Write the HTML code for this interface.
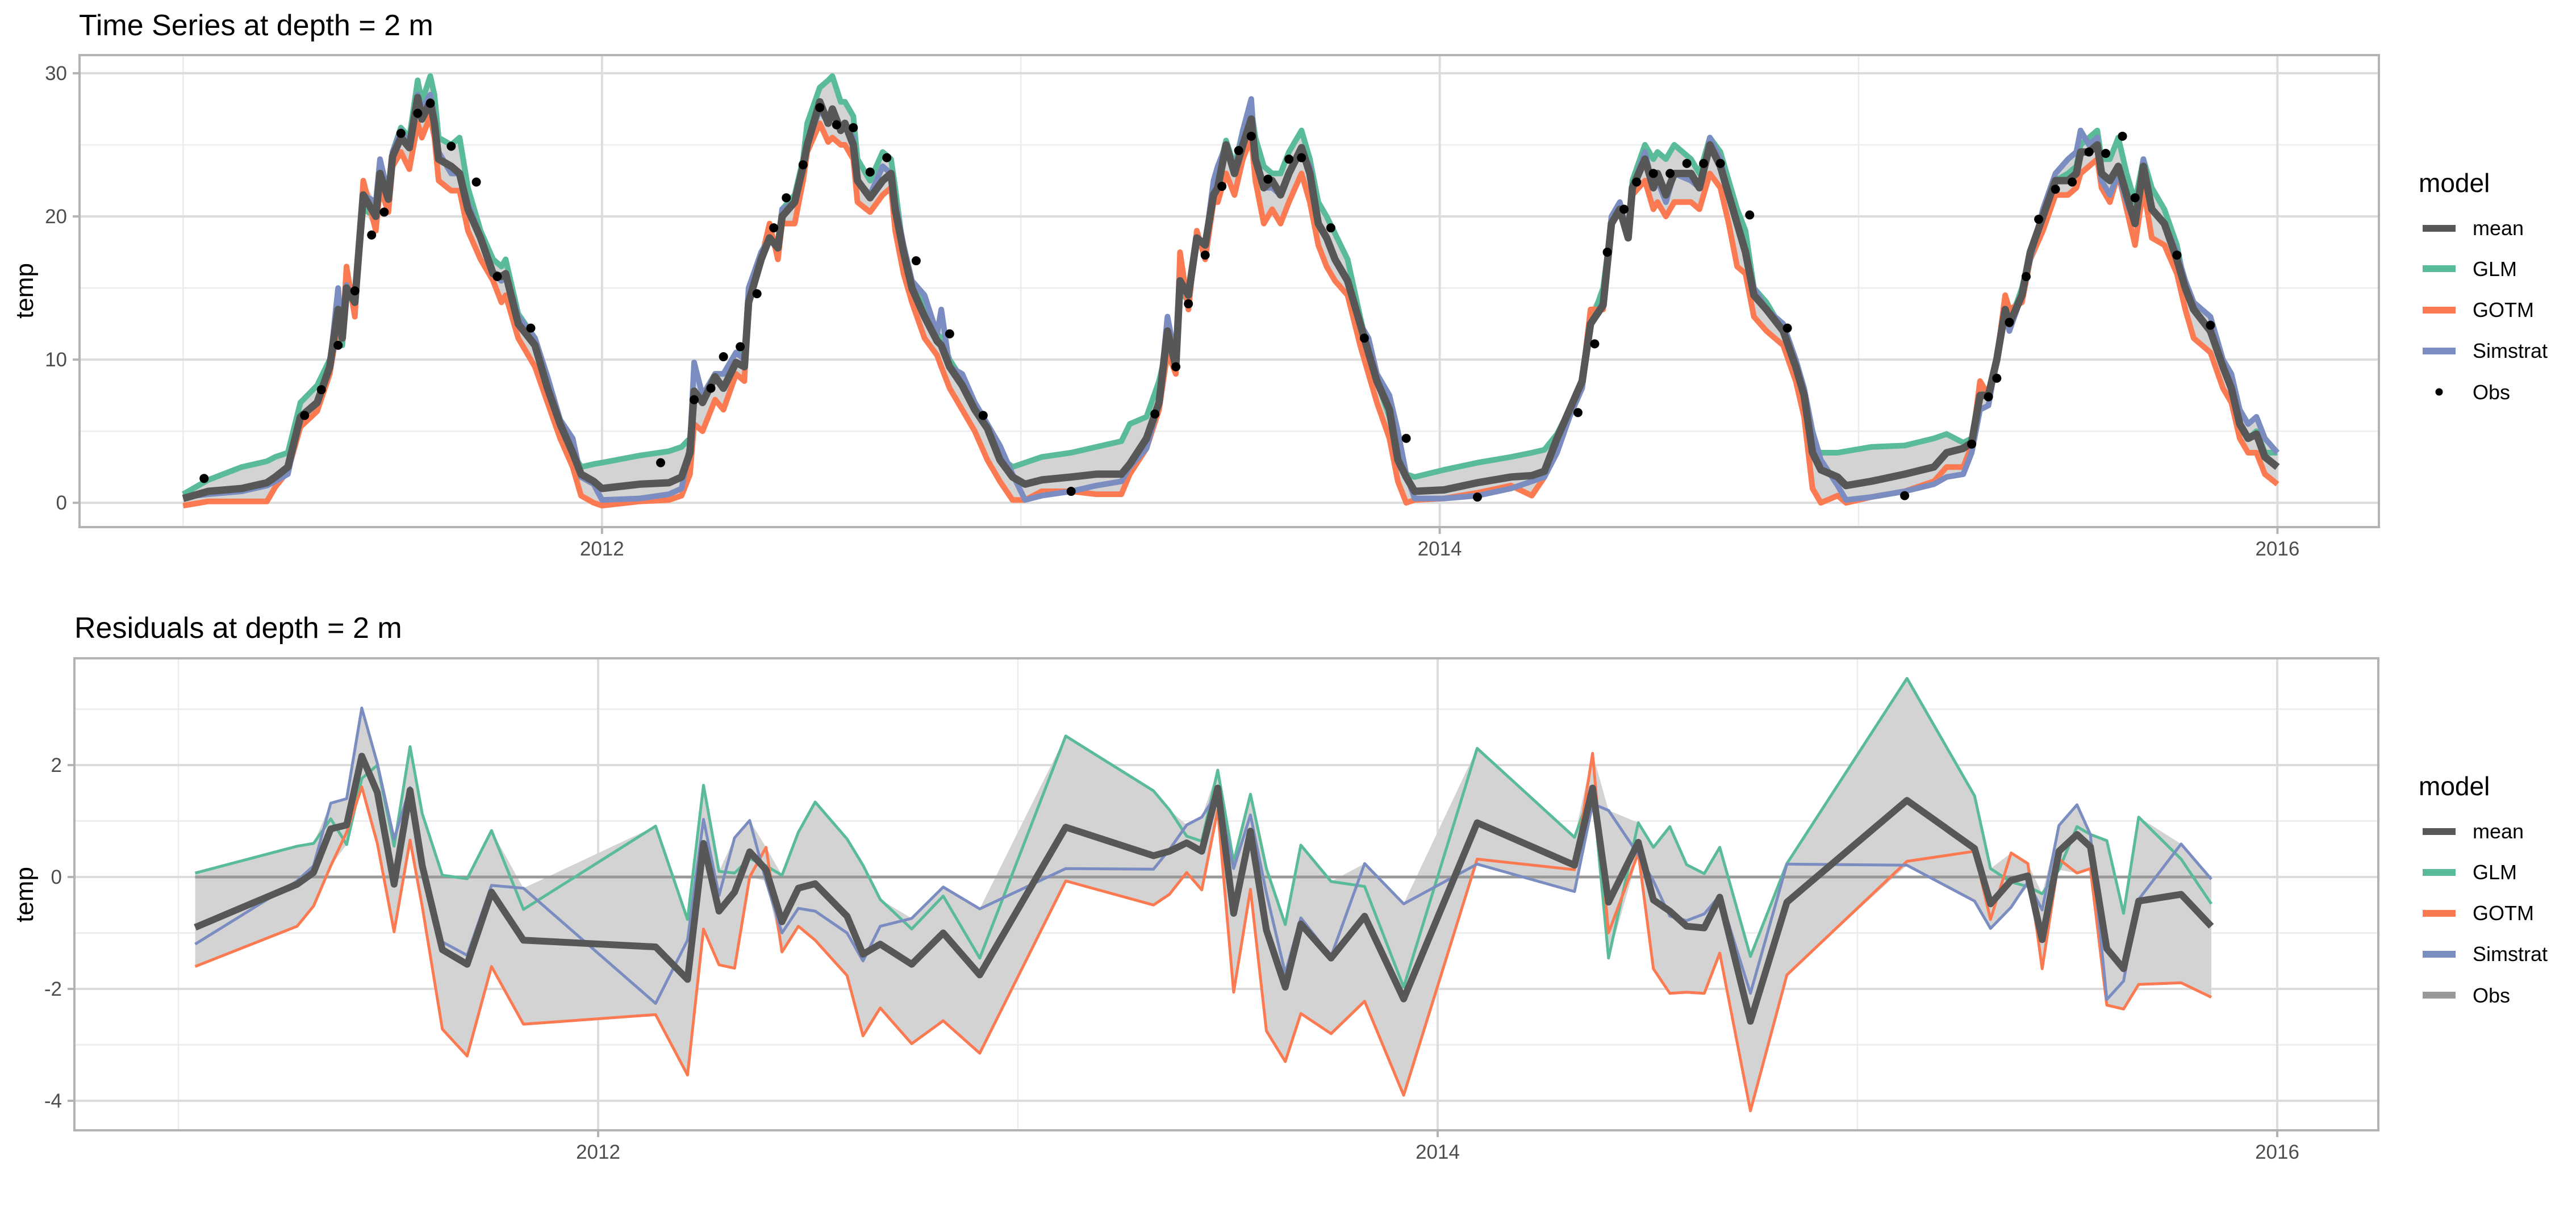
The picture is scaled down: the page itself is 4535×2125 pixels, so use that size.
<!DOCTYPE html>
<html>
<head>
<meta charset="utf-8">
<style>
html,body{margin:0;padding:0;background:#fff;}
svg{display:block;font-family:"Liberation Sans",Arial,sans-serif;}
.tick{fill:#4d4d4d;font-size:35px;}
.ttl{fill:#000;font-size:52px;}
.axt{fill:#000;font-size:44px;}
.leg{fill:#000;font-size:36px;}
.legt{fill:#000;font-size:46px;}
</style>
</head>
<body>
<svg id="chart" width="4535" height="2125" viewBox="0 0 4535 2125" xmlns="http://www.w3.org/2000/svg">
  <rect x="0" y="0" width="4535" height="2125" fill="#fff"/>
  <defs>
    <clipPath id="clipTop"><rect x="140" y="97" width="4048" height="831"/></clipPath>
    <clipPath id="clipBot"><rect x="131" y="1159" width="4056" height="831"/></clipPath>
  </defs>
  <text class="ttl" x="139" y="62">Time Series at depth = 2 m</text>
  <text class="ttl" x="131" y="1123">Residuals at depth = 2 m</text>
  <text class="axt" transform="translate(58,512) rotate(-90)" text-anchor="middle">temp</text>
  <text class="axt" transform="translate(58,1575) rotate(-90)" text-anchor="middle">temp</text>
  <g id="gTop"></g>
  <g id="gBot"></g>

  <g>
    <text class="legt" x="4258" y="338">model</text>
    <g><rect x="4265" y="396" width="58" height="12" fill="#575757"/><text class="leg" x="4353" y="414">mean</text></g>
    <g><rect x="4265" y="467" width="58" height="12" fill="#59bb97"/><text class="leg" x="4353" y="486">GLM</text></g>
    <g><rect x="4265" y="540" width="58" height="12" fill="#fb7a51"/><text class="leg" x="4353" y="558">GOTM</text></g>
    <g><rect x="4265" y="612" width="58" height="12" fill="#7b8dc0"/><text class="leg" x="4353" y="630">Simstrat</text></g>
    <g><circle cx="4294" cy="690" r="6.5" fill="#000"/><text class="leg" x="4353" y="703">Obs</text></g>
  </g>
  <g>
    <text class="legt" x="4258" y="1400">model</text>
    <g><rect x="4265" y="1458" width="58" height="12" fill="#575757"/><text class="leg" x="4353" y="1476">mean</text></g>
    <g><rect x="4265" y="1530" width="58" height="12" fill="#59bb97"/><text class="leg" x="4353" y="1548">GLM</text></g>
    <g><rect x="4265" y="1602" width="58" height="12" fill="#fb7a51"/><text class="leg" x="4353" y="1620">GOTM</text></g>
    <g><rect x="4265" y="1674" width="58" height="12" fill="#7b8dc0"/><text class="leg" x="4353" y="1692">Simstrat</text></g>
    <g><rect x="4265" y="1746" width="58" height="12" fill="#999999"/><text class="leg" x="4353" y="1765">Obs</text></g>
  </g>
</svg>
<script>
// ---------- Top panel data ----------
const tsDates = [2011.00,2011.06,2011.14,2011.20,2011.22,2011.25,2011.28,2011.32,2011.35,2011.37,2011.38,2011.39,2011.41,2011.43,2011.46,2011.47,2011.49,2011.50,2011.52,2011.54,2011.56,2011.57,2011.59,2011.60,2011.61,2011.64,2011.66,2011.68,2011.71,2011.74,2011.76,2011.77,2011.80,2011.84,2011.87,2011.90,2011.93,2011.95,2011.98,
2012.00,2012.09,2012.16,2012.19,2012.21,2012.22,2012.24,2012.27,2012.29,2012.32,2012.34,2012.35,2012.38,2012.40,2012.42,2012.43,2012.46,2012.48,2012.49,2012.52,2012.54,2012.55,2012.57,2012.58,2012.60,2012.61,2012.64,2012.67,2012.69,2012.70,2012.72,2012.74,2012.77,2012.80,2012.81,2012.83,2012.86,2012.89,2012.92,2012.95,2012.98,
2013.01,2013.05,2013.12,2013.18,2013.24,2013.26,2013.30,2013.33,2013.35,2013.37,2013.38,2013.40,2013.42,2013.44,2013.46,2013.47,2013.49,2013.51,2013.53,2013.55,2013.56,2013.58,2013.60,2013.62,2013.64,2013.67,2013.69,2013.71,2013.73,2013.75,2013.78,2013.81,2013.83,2013.85,2013.88,2013.90,2013.92,2013.94,
2014.01,2014.09,2014.17,2014.22,2014.25,2014.28,2014.31,2014.34,2014.36,2014.39,2014.41,2014.43,2014.45,2014.46,2014.49,2014.51,2014.52,2014.54,2014.56,2014.60,2014.62,2014.645,2014.67,2014.69,2014.71,2014.73,2014.75,2014.78,2014.82,2014.85,2014.87,2014.89,2014.91,2014.95,2014.97,
2015.03,2015.11,2015.18,2015.21,2015.25,2015.27,2015.29,2015.31,2015.33,2015.35,2015.36,2015.39,2015.41,2015.44,2015.47,2015.50,2015.52,2015.53,2015.55,2015.57,2015.58,2015.60,2015.62,2015.64,2015.66,2015.68,2015.70,2015.73,2015.76,2015.78,2015.80,2015.84,2015.87,2015.89,2015.91,2015.93,2015.95,2015.97,2016.00];
const tsMean = [0.3,0.8,1.0,1.4,1.8,2.5,6.0,7.0,9.5,13.5,11.5,15.0,14.0,21.5,20.0,23.0,21.2,24.2,25.5,24.8,28.3,26.8,28.0,26.5,24.0,23.5,23.0,20.5,18.5,16.0,15.8,16.0,12.5,11.0,8.0,5.5,3.5,2.0,1.5,
1.0,1.3,1.4,1.8,3.5,7.8,7.0,8.8,8.0,9.8,9.5,14.0,17.0,18.5,17.8,20.0,21.0,23.5,25.0,28.0,26.5,27.5,26.0,26.5,25.0,22.5,21.3,22.5,23.0,20.5,17.5,15.0,13.0,11.3,11.0,9.5,8.2,6.5,5.2,3.0,1.8,
1.3,1.6,1.8,2.0,2.0,2.7,4.5,7.0,12.0,9.5,15.5,14.5,18.5,18.0,21.5,22.0,25.0,23.0,25.0,26.8,24.0,22.0,22.5,21.5,23.0,24.8,23.0,19.5,18.5,17.0,15.5,12.5,10.5,8.5,6.5,3.0,1.8,0.8,
0.9,1.4,1.8,1.9,2.2,4.5,6.5,8.5,12.5,13.8,19.5,20.5,18.5,22.0,24.0,22.0,23.0,21.5,23.0,23.0,22.0,25.0,23.5,21.5,19.5,17.5,14.5,13.5,12.0,9.5,7.5,3.5,2.3,1.8,1.2,
1.5,2.0,2.5,3.5,3.8,4.2,7.5,7.5,10.0,13.5,12.5,14.5,17.5,20.0,22.5,22.5,23.0,24.5,24.5,25.0,23.0,22.5,23.5,21.5,19.5,23.5,20.5,19.5,17.0,15.0,13.5,12.0,9.5,8.0,5.5,4.5,4.8,3.2,2.5];
const tsGLM = [0.6,1.6,2.5,2.9,3.2,3.5,7.0,8.2,10.0,12.0,11.0,14.5,14.0,20.5,20.0,22.5,21.5,24.5,26.2,25.5,29.5,28.0,29.8,28.5,25.5,25.0,25.5,22.0,19.0,17.0,16.5,17.0,13.2,11.5,8.5,5.8,3.5,2.5,2.7,
2.8,3.3,3.6,3.9,4.5,7.5,7.5,9.0,9.0,10.5,10.3,14.0,17.5,18.5,18.0,20.5,21.5,24.0,26.5,29.0,29.5,29.8,28.0,28.0,27.0,24.0,22.5,24.5,24.0,22.0,17.5,15.5,13.5,11.8,11.5,10.0,8.6,7.0,5.5,3.2,2.5,
2.8,3.2,3.5,3.9,4.3,5.5,6.0,8.5,11.0,10.0,15.0,14.0,18.5,18.0,22.0,23.0,25.3,23.5,26.0,27.5,25.5,23.5,23.0,23.0,24.5,26.0,24.0,21.0,20.0,18.8,17.0,13.0,10.5,8.5,6.0,3.0,2.0,1.8,
2.3,2.8,3.2,3.5,3.7,4.8,6.5,8.0,12.5,15.0,19.5,20.5,18.5,22.5,25.0,24.0,24.5,24.0,25.0,24.0,23.0,25.5,24.5,22.5,20.5,19.0,15.0,14.0,12.0,9.5,7.5,3.8,3.5,3.5,3.6,
3.9,4.0,4.5,4.8,4.2,4.5,8.0,7.5,10.0,13.5,12.5,15.0,17.5,20.0,22.5,23.0,23.5,25.0,25.5,26.0,24.0,24.0,25.5,23.0,21.0,24.0,22.0,20.5,18.0,15.0,13.5,12.0,9.5,8.0,5.5,4.5,5.0,3.5,3.5];
const tsGOTM = [-0.2,0.1,0.1,0.1,1.1,2.2,5.3,6.4,9.0,12.5,11.5,16.5,13.0,22.5,19.0,22.0,20.3,23.5,24.5,23.3,26.5,25.5,27.0,25.5,22.5,21.8,21.8,19.0,17.0,15.5,14.0,14.5,11.5,9.5,7.0,4.5,2.5,0.5,0.0,
-0.2,0.1,0.2,0.5,2.0,5.5,5.0,7.2,6.5,9.0,8.5,14.5,17.0,19.5,17.0,19.5,19.5,22.5,24.5,26.5,25.2,25.5,25.0,25.0,24.0,21.0,20.3,21.5,22.0,19.0,16.0,14.0,11.5,10.3,9.5,8.0,6.5,5.0,3.0,1.5,0.2,
0.2,0.8,0.8,0.6,0.6,2.0,3.8,6.5,10.5,9.0,17.5,13.5,19.0,17.0,21.0,21.0,23.0,21.5,24.0,25.5,22.5,19.5,20.5,19.5,21.0,23.0,21.0,18.0,16.5,15.5,14.5,11.0,9.0,7.0,4.5,1.5,0.0,0.2,
0.3,0.7,1.2,0.5,1.8,4.0,6.5,8.5,13.5,13.5,19.5,20.5,18.5,21.5,22.5,20.5,21.0,20.0,21.0,21.0,20.5,23.0,22.0,19.5,16.5,16.0,13.0,12.0,11.0,8.5,6.0,1.0,0.0,0.5,0.0,
0.4,0.8,1.5,2.5,2.5,4.0,8.5,7.5,10.0,14.5,13.5,14.0,17.0,19.0,21.5,21.5,22.0,23.0,23.5,24.0,22.0,21.0,23.0,20.5,18.0,22.0,18.5,18.0,16.0,13.5,11.5,10.5,8.0,7.0,4.5,3.5,3.5,2.0,1.3];
const tsSim = [0.4,0.6,0.8,1.2,1.5,2.0,6.0,7.0,9.5,15.0,11.5,15.2,14.0,21.5,21.0,24.0,21.5,24.5,26.0,25.0,28.5,27.5,28.5,27.0,24.5,23.0,23.0,21.0,18.5,16.0,15.5,16.0,13.0,11.5,8.8,5.8,4.5,1.8,1.3,
0.2,0.3,0.6,1.0,4.0,9.8,7.5,9.0,9.0,10.5,10.0,15.0,17.5,18.5,18.0,20.5,21.0,23.5,25.0,27.5,26.5,27.0,26.3,26.5,25.5,22.5,21.5,23.5,23.0,21.0,18.0,15.5,14.5,11.8,13.5,9.5,9.0,7.0,5.5,4.0,2.0,
0.2,0.5,0.8,1.2,1.5,2.5,3.8,7.0,13.0,10.0,15.0,14.5,18.5,18.0,22.5,23.5,25.0,23.0,26.0,28.2,24.0,22.0,22.0,21.5,23.0,24.5,23.5,19.5,18.5,17.0,15.5,12.5,11.5,9.0,7.5,5.0,2.0,0.3,
0.3,0.5,1.0,1.5,1.8,3.5,6.0,8.0,12.5,14.0,20.0,21.0,18.5,22.0,24.5,22.0,22.5,21.0,23.0,22.5,22.0,25.5,24.0,21.5,19.5,17.5,15.0,13.5,12.5,10.0,8.0,5.0,3.0,1.2,0.2,
0.4,0.8,1.3,1.8,2.0,3.5,6.5,6.8,10.0,13.0,12.0,14.5,17.0,20.5,23.0,24.0,24.5,26.0,25.0,25.5,22.5,21.5,23.0,21.0,19.5,24.0,20.5,19.5,17.5,15.5,14.0,13.0,10.0,9.0,6.5,5.5,6.0,4.5,3.5];
const obsDates = [2011.05,2011.29,2011.33,2011.37,2011.41,2011.45,2011.48,2011.52,2011.56,2011.59,2011.64,2011.70,2011.75,2011.83,
2012.14,2012.22,2012.26,2012.29,2012.33,2012.37,2012.41,2012.44,2012.48,2012.52,2012.56,2012.60,2012.64,2012.68,2012.75,2012.83,2012.91,
2013.12,2013.32,2013.37,2013.40,2013.44,2013.48,2013.52,2013.55,2013.59,2013.64,2013.67,2013.74,2013.82,2013.92,
2014.09,2014.33,2014.37,2014.40,2014.44,2014.47,2014.51,2014.55,2014.59,2014.63,2014.67,2014.74,2014.83,
2015.11,2015.27,2015.31,2015.33,2015.36,2015.40,2015.43,2015.47,2015.51,2015.55,2015.59,2015.63,2015.66,2015.76,2015.84];
const obsTemps = [1.7,6.1,7.9,11.0,14.8,18.7,20.3,25.8,27.2,27.9,24.9,22.4,15.8,12.2,
2.8,7.2,8.0,10.2,10.9,14.6,19.2,21.3,23.6,27.6,26.4,26.2,23.1,24.1,16.9,11.8,6.1,
0.8,6.2,9.5,13.9,17.3,22.1,24.6,25.6,22.6,24.0,24.1,19.2,11.5,4.5,
0.4,6.3,11.1,17.5,20.5,22.4,23.0,23.0,23.7,23.7,23.7,20.1,12.2,
0.5,4.1,7.4,8.7,12.6,15.8,19.8,21.9,22.4,24.5,24.4,25.6,21.3,17.3,12.4];
const topYTicks = [0,10,20,30];
const topYMinor = [5,15,25];
const xMajorTicks = [2012,2014,2016];
const xMinorTicks = [2011,2013,2015];

// ---------- Bottom panel data ----------
const resDates = [2011.040,2011.283,2011.322,2011.363,2011.401,2011.437,2011.474,2011.514,2011.552,2011.581,2011.629,2011.688,2011.746,2011.822,
2012.137,2012.213,2012.251,2012.288,2012.325,2012.361,2012.400,2012.438,2012.477,2012.517,2012.593,2012.631,2012.672,2012.747,2012.822,2012.909,
2013.114,2013.323,2013.361,2013.402,2013.438,2013.476,2013.514,2013.554,2013.592,2013.637,2013.674,2013.746,2013.826,2013.919,
2014.094,2014.326,2014.369,2014.407,2014.478,2014.514,2014.553,2014.593,2014.635,2014.672,2014.745,2014.832,
2015.118,2015.279,2015.317,2015.366,2015.406,2015.440,2015.480,2015.523,2015.555,2015.594,2015.634,2015.670,2015.771,2015.843];
const resMean = [-0.9,-0.13,0.08,0.86,0.93,2.16,1.51,-0.13,1.55,0.2,-1.3,-1.56,-0.27,-1.13,
-1.25,-1.83,0.6,-0.61,-0.27,0.45,0.13,-0.8,-0.2,-0.12,-0.7,-1.38,-1.2,-1.56,-1.0,-1.75,
0.89,0.38,0.46,0.61,0.46,1.59,-0.65,0.82,-0.95,-1.97,-0.84,-1.45,-0.7,-2.18,
0.97,0.21,1.59,-0.45,0.62,-0.41,-0.61,-0.88,-0.91,-0.36,-2.58,-0.45,
1.37,0.51,-0.48,-0.06,0.02,-1.12,0.46,0.76,0.54,-1.28,-1.64,-0.43,-0.31,-0.88];
const resGLM = [0.07,0.55,0.6,1.04,0.58,1.76,2.0,0.55,2.33,1.13,0.03,-0.03,0.83,-0.58,
0.91,-0.76,1.64,0.1,0.07,0.33,0.2,0.03,0.8,1.34,0.68,0.21,-0.4,-0.93,-0.34,-1.45,
2.52,1.54,1.2,0.73,0.64,1.91,0.27,1.48,0.15,-0.85,0.57,-0.08,-0.17,-1.97,
2.3,0.71,1.6,-1.45,0.97,0.53,0.9,0.22,0.06,0.53,-1.42,0.24,
3.55,1.45,0.15,-0.09,-0.17,-0.3,0.13,0.9,0.76,0.65,-0.65,1.07,0.32,-0.48];
const resGOTM = [-1.6,-0.88,-0.52,0.2,0.8,1.61,0.6,-0.98,0.66,-0.53,-2.72,-3.2,-1.6,-2.63,
-2.46,-3.54,-0.93,-1.57,-1.63,0.0,0.53,-1.34,-0.88,-1.13,-1.76,-2.84,-2.34,-2.98,-2.57,-3.15,
-0.07,-0.5,-0.31,0.08,-0.23,1.2,-2.06,-0.22,-2.75,-3.3,-2.44,-2.8,-2.22,-3.9,
0.32,0.13,2.21,-1.0,0.43,-1.64,-2.08,-2.06,-2.08,-1.36,-4.18,-1.75,
0.28,0.46,-0.76,0.43,0.24,-1.64,0.32,0.07,0.15,-2.29,-2.36,-1.92,-1.89,-2.15];
const resSim = [-1.2,-0.07,0.2,1.32,1.4,3.02,2.03,0.68,1.6,0.2,-1.16,-1.4,-0.15,-0.2,
-2.26,-1.13,1.03,-0.33,0.7,1.01,-0.07,-1.0,-0.56,-0.61,-1.0,-1.5,-0.88,-0.74,-0.18,-0.57,
0.15,0.14,0.49,0.93,1.07,1.52,0.15,1.11,-0.29,-1.72,-0.73,-1.42,0.24,-0.48,
0.23,-0.26,1.31,1.19,0.4,-0.07,-0.7,-0.78,-0.66,-0.33,-2.08,0.23,
0.21,-0.43,-0.92,-0.54,-0.09,-0.59,0.92,1.29,0.76,-2.19,-1.86,-0.4,0.59,-0.04];
const botYTicks = [-4,-2,0,2];
const botYMinor = [-3,-1,1,3];

// ---------- scales ----------
const xT = yr => 322.4 + (yr - 2011) * 737.4;
const yT = t => 885.2 - t * 25.21;
const xB = yr => 314 + (yr - 2011) * 739;
const yB = v => 1544 - v * 98.5;

const NS = 'http://www.w3.org/2000/svg';
function mk(tag, attrs, parent) {
  const el = document.createElementNS(NS, tag);
  for (const k in attrs) el.setAttribute(k, attrs[k]);
  parent.appendChild(el);
  return el;
}
function pathFrom(dates, vals, xs, ys) {
  return dates.map((d, i) => (i ? 'L' : 'M') + xs(d).toFixed(1) + ',' + ys(vals[i]).toFixed(1)).join('');
}
function ribbonFrom(dates, a, b, c, xs, ys) {
  const hi = dates.map((d, i) => Math.max(a[i], b[i], c[i]));
  const lo = dates.map((d, i) => Math.min(a[i], b[i], c[i]));
  let p = dates.map((d, i) => (i ? 'L' : 'M') + xs(d).toFixed(1) + ',' + ys(hi[i]).toFixed(1)).join('');
  for (let i = dates.length - 1; i >= 0; i--) p += 'L' + xs(dates[i]).toFixed(1) + ',' + ys(lo[i]).toFixed(1);
  return p + 'Z';
}

function drawPanel(g, cfg) {
  const bg = mk('rect', {x: cfg.left, y: cfg.top, width: cfg.right - cfg.left, height: cfg.bottom - cfg.top, fill: '#fff'}, g);
  
  
  cfg.yMinor.forEach(v => {
    const l = mk('line', {x1: cfg.left, x2: cfg.right, y1: cfg.ys(v), y2: cfg.ys(v), stroke: '#ececec', 'stroke-width': 2.5}, g);
    
    
  });
  xMinorTicks.forEach(v => {
    const l = mk('line', {x1: cfg.xs(v), x2: cfg.xs(v), y1: cfg.top, y2: cfg.bottom, stroke: '#ececec', 'stroke-width': 2.5}, g);
    
    
  });
  cfg.yTicks.forEach(v => {
    const l = mk('line', {x1: cfg.left, x2: cfg.right, y1: cfg.ys(v), y2: cfg.ys(v), stroke: '#dcdcdc', 'stroke-width': 4}, g);
    
    
    const tk = mk('line', {x1: cfg.left - 12, x2: cfg.left, y1: cfg.ys(v), y2: cfg.ys(v), stroke: '#b3b3b3', 'stroke-width': 4}, g);
    
    
    const t = mk('text', {x: cfg.left - 22, y: cfg.ys(v) + 12, 'text-anchor': 'end', class: 'tick'}, g);
    
    
    t.textContent = String(v);
  });
  xMajorTicks.forEach(v => {
    const l = mk('line', {x1: cfg.xs(v), x2: cfg.xs(v), y1: cfg.top, y2: cfg.bottom, stroke: '#dcdcdc', 'stroke-width': 4}, g);
    
    
    const tk = mk('line', {x1: cfg.xs(v), x2: cfg.xs(v), y1: cfg.bottom, y2: cfg.bottom + 12, stroke: '#b3b3b3', 'stroke-width': 4}, g);
    
    
    const t = mk('text', {x: cfg.xs(v), y: cfg.bottom + 50, 'text-anchor': 'middle', class: 'tick'}, g);
    
    
    t.textContent = String(v);
  });
}

// ---------- Top panel ----------
const gTop = document.getElementById('gTop');
drawPanel(gTop, {prefix: 'top', left: 140, right: 4188, top: 97, bottom: 928, xs: xT, ys: yT, yTicks: topYTicks, yMinor: topYMinor});
const topData = mk('g', {'clip-path': 'url(#clipTop)'}, gTop);


const rib = mk('path', {d: ribbonFrom(tsDates, tsGLM, tsGOTM, tsSim, xT, yT), fill: '#d3d3d3', stroke: 'none'}, topData);


const lGLM = mk('path', {d: pathFrom(tsDates, tsGLM, xT, yT), fill: 'none', stroke: '#59bb97', 'stroke-width': 10, 'stroke-linejoin': 'round'}, topData);


const lGOTM = mk('path', {d: pathFrom(tsDates, tsGOTM, xT, yT), fill: 'none', stroke: '#fb7a51', 'stroke-width': 10, 'stroke-linejoin': 'round'}, topData);


const lSim = mk('path', {d: pathFrom(tsDates, tsSim, xT, yT), fill: 'none', stroke: '#7b8dc0', 'stroke-width': 10, 'stroke-linejoin': 'round'}, topData);


const lMean = mk('path', {d: pathFrom(tsDates, tsMean, xT, yT), fill: 'none', stroke: '#575757', 'stroke-width': 13, 'stroke-linejoin': 'round'}, topData);


obsDates.forEach((d, i) => {
  const c = mk('circle', {cx: xT(d), cy: yT(obsTemps[i]), r: 8, fill: '#000'}, topData);
  
  
});
const bTop = mk('rect', {x: 140, y: 97, width: 4048, height: 831, fill: 'none', stroke: '#b3b3b3', 'stroke-width': 4}, gTop);



// ---------- Bottom panel ----------
const gBot = document.getElementById('gBot');
drawPanel(gBot, {prefix: 'bottom', left: 131, right: 4187, top: 1159, bottom: 1990, xs: xB, ys: yB, yTicks: botYTicks, yMinor: botYMinor});
const botData = mk('g', {'clip-path': 'url(#clipBot)'}, gBot);


const rib2 = mk('path', {d: ribbonFrom(resDates, resGLM, resGOTM, resSim, xB, yB), fill: '#d3d3d3', stroke: 'none'}, botData);


const zl = mk('line', {x1: xB(resDates[0]), x2: xB(resDates[resDates.length - 1]), y1: yB(0), y2: yB(0), stroke: '#999999', 'stroke-width': 5}, botData);


const rGLM = mk('path', {d: pathFrom(resDates, resGLM, xB, yB), fill: 'none', stroke: '#59bb97', 'stroke-width': 5, 'stroke-linejoin': 'round'}, botData);


const rGOTM = mk('path', {d: pathFrom(resDates, resGOTM, xB, yB), fill: 'none', stroke: '#fb7a51', 'stroke-width': 5, 'stroke-linejoin': 'round'}, botData);


const rSim = mk('path', {d: pathFrom(resDates, resSim, xB, yB), fill: 'none', stroke: '#7b8dc0', 'stroke-width': 5, 'stroke-linejoin': 'round'}, botData);


const rMean = mk('path', {d: pathFrom(resDates, resMean, xB, yB), fill: 'none', stroke: '#575757', 'stroke-width': 12, 'stroke-linejoin': 'round'}, botData);


const bBot = mk('rect', {x: 131, y: 1159, width: 4056, height: 831, fill: 'none', stroke: '#b3b3b3', 'stroke-width': 4}, gBot);


</script>
</body>
</html>
